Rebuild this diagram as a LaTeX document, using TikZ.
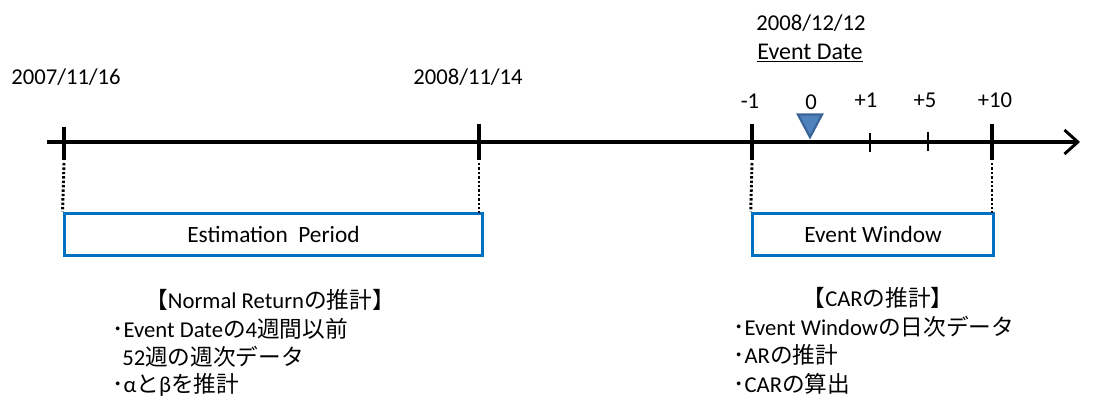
\documentclass[tikz,border=0pt]{standalone}
\usepackage{fontspec}
\setmainfont{Carlito}
\newfontfamily\cjk{Noto Sans CJK JP}
\usetikzlibrary{arrows.meta,shapes.geometric}
\definecolor{boxblue}{HTML}{0070C0}
\definecolor{trifill}{HTML}{4F81BD}
\definecolor{triedge}{HTML}{3A6497}
\newcommand{\bul}{{\cjk ･}}
\tikzset{
  lbl/.style={font=\fontsize{17pt}{20pt}\selectfont, inner sep=0pt},
  jtxt/.style={font=\fontsize{17pt}{20pt}\selectfont, inner sep=0pt, anchor=west},
  major/.style={line width=2.3pt},
  minor/.style={line width=1.1pt},
  guide/.style={line width=2.2pt, dash pattern=on 1.8pt off 1.5pt},
  period/.style={draw=boxblue, line width=2.4pt, inner sep=0pt, font=\fontsize{17.5pt}{20pt}\selectfont},
}
\begin{document}
\begin{tikzpicture}[x=0.75pt,y=-0.75pt]
\useasboundingbox (0,0) rectangle (1104,399);
\clip (0,0) rectangle (1104,399);
% axis
\coordinate (ax0) at (47,142);
\coordinate (ax1) at (1080,142);
\draw[line width=2.3pt, -{Straight Barb[length=10pt,width=18pt,line width=2.2pt]}] (ax0) -- (ax1);
% major ticks
\draw[major] (64,127) -- (64,160);
\draw[major] (479,124) -- (479,160);
\draw[major] (752,124) -- (752,160);
\draw[major] (992,124) -- (992,160);
% minor ticks
\draw[minor] (870,133) -- (870,152);
\draw[minor] (928,132) -- (928,151);
% triangle
\node[draw=triedge, fill=trifill, line width=1.6pt, isosceles triangle, isosceles triangle apex angle=56, shape border rotate=-90, minimum height=17pt, inner sep=0pt, anchor=apex] (tri) at (810,139.5) {};
% boxes
\node[period, minimum width=314pt, minimum height=32pt] (est) at (273.5,234.5) {Estimation\hspace{4pt} Period};
\node[period, minimum width=181pt, minimum height=32pt] (ew) at (873,234.5) {Event Window};
% dotted guides
\draw[guide] (64,163) -- (est.north west);
\draw[guide] (479,163) -- (479,213);
\draw[guide] (752,163) -- (ew.north west);
\draw[guide] (992,163) -- (992,213);
% date labels
\node[lbl] (d1) at (66,77) {2007/11/16};
\node[lbl] (d2) at (468,77) {2008/11/14};
\node[lbl] (d3) at (811,23) {2008/12/12};
\node[lbl, font=\fontsize{18pt}{20pt}\selectfont] (ed) at (810,53) {\underline{Event Date}};
\node[lbl] (m1) at (750,101) {-1};
\node[lbl] (z0) at (811,102) {0};
\node[lbl] (p1) at (866,100) {+1};
\node[lbl] (p5) at (925,100) {+5};
\node[lbl] (p10) at (995,100) {+10};
% left text
\node[jtxt, anchor=center] (nr) at (270,300) {{\cjk 【}Normal Return{\cjk の推計】}};
\node[jtxt] (l1) at (112,329) {\bul Event Date{\cjk の}4{\cjk 週間以前}};
\node[jtxt] (l2) at (122,357) {52{\cjk 週の週次データ}};
\node[jtxt] (l3) at (112,385) {\bul α{\cjk と}β{\cjk を推計}};
% right text
\node[jtxt, anchor=center] (car) at (878,298) {{\cjk 【}CAR{\cjk の推計】}};
\node[jtxt] (r1) at (733,327) {\bul Event Window{\cjk の日次データ}};
\node[jtxt] (r2) at (733,355) {\bul AR{\cjk の推計}};
\node[jtxt] (r3) at (733,384) {\bul CAR{\cjk の算出}};
\end{tikzpicture}
\end{document}
